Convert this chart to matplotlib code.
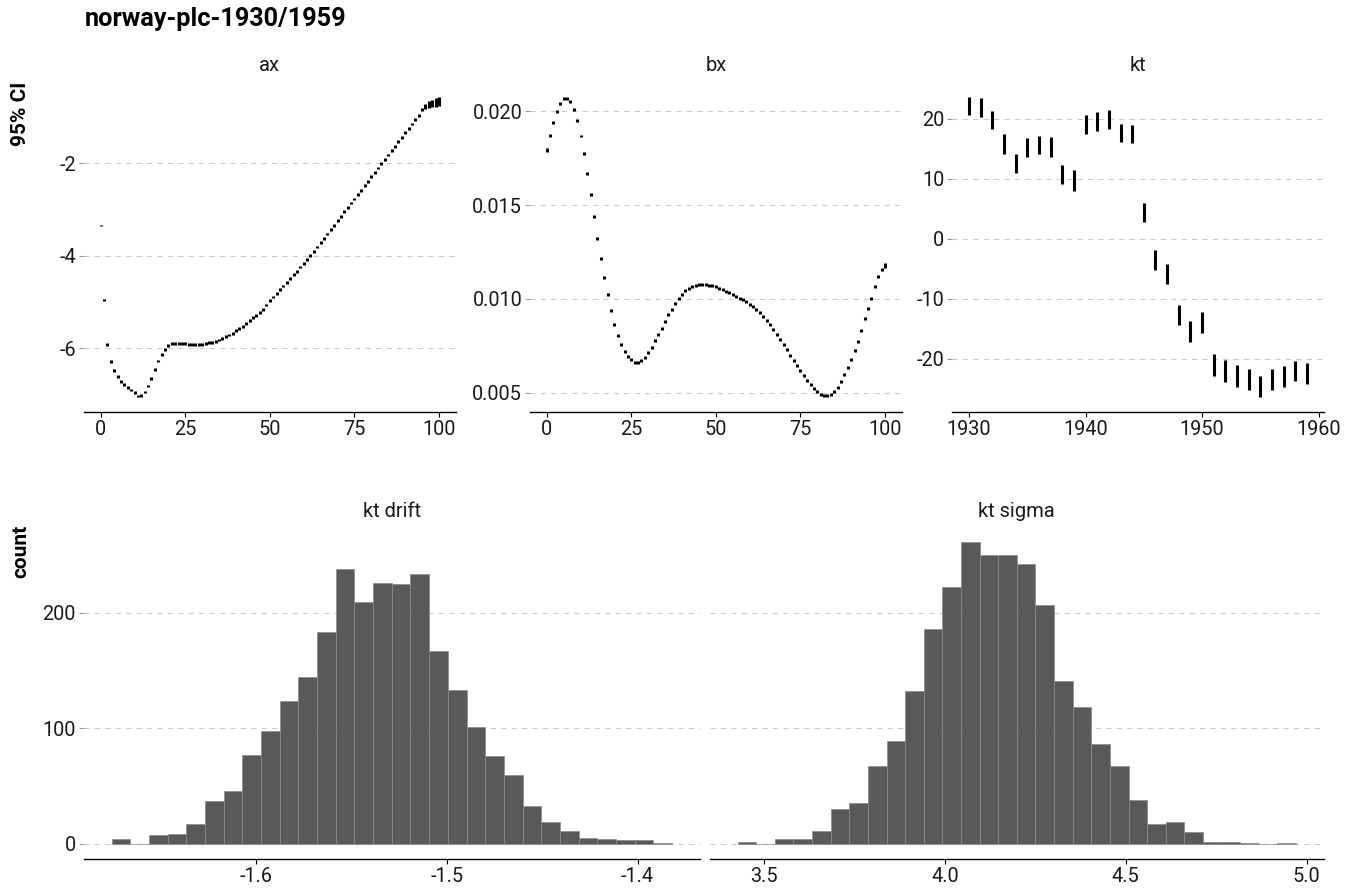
import numpy as np
import matplotlib
matplotlib.use("Agg")
import matplotlib.pyplot as plt

plt.rcParams['font.family'] = ['Roboto', 'DejaVu Sans']
plt.rcParams['axes.unicode_minus'] = False

# ---- data ----
ages = list(range(101))

ax_mid = [-3.35, -4.96, -5.91, -6.29, -6.48, -6.61, -6.71, -6.78, -6.85, -6.90,
          -6.96, -7.03, -7.02, -6.94, -6.81, -6.65, -6.45, -6.27, -6.14, -6.02,
          -5.93, -5.89, -5.89, -5.89, -5.90, -5.90, -5.91, -5.92, -5.92, -5.91,
          -5.91, -5.90, -5.88, -5.87, -5.85, -5.82, -5.79, -5.75, -5.71, -5.67,
          -5.62, -5.57, -5.52, -5.46, -5.40, -5.34, -5.29, -5.23, -5.16, -5.06,
          -4.97, -4.89, -4.81, -4.73, -4.65, -4.57, -4.49, -4.41, -4.33, -4.24,
          -4.16, -4.08, -4.00, -3.91, -3.81, -3.72, -3.62, -3.53, -3.43, -3.34,
          -3.24, -3.15, -3.05, -2.96, -2.86, -2.77, -2.67, -2.58, -2.48, -2.39,
          -2.29, -2.20, -2.10, -2.01, -1.91, -1.82, -1.72, -1.63, -1.53, -1.44,
          -1.34, -1.25, -1.15, -1.05, -0.96, -0.84, -0.77, -0.73, -0.71, -0.69,
          -0.66]
ax_halfw = [0.01, 0.02, 0.03, 0.03, 0.03, 0.03, 0.03, 0.03, 0.03, 0.03,
            0.03, 0.03, 0.03, 0.03, 0.03, 0.03, 0.03, 0.03, 0.03, 0.03,
            0.03, 0.03, 0.03, 0.03, 0.03, 0.03, 0.03, 0.03, 0.03, 0.03,
            0.03, 0.03, 0.03, 0.03, 0.03, 0.03, 0.03, 0.03, 0.03, 0.03,
            0.03, 0.03, 0.03, 0.03, 0.03, 0.03, 0.03, 0.03, 0.03, 0.03,
            0.03, 0.03, 0.03, 0.03, 0.03, 0.03, 0.03, 0.03, 0.03, 0.03,
            0.03, 0.03, 0.03, 0.03, 0.03, 0.03, 0.03, 0.03, 0.03, 0.03,
            0.03, 0.03, 0.03, 0.03, 0.03, 0.03, 0.03, 0.03, 0.03, 0.03,
            0.03, 0.03, 0.03, 0.03, 0.03, 0.03, 0.03, 0.03, 0.03, 0.03,
            0.03, 0.03, 0.03, 0.03, 0.035, 0.04, 0.06, 0.07, 0.08, 0.09,
            0.10]

bx_mid = [0.01796, 0.01871, 0.01943, 0.02000, 0.02043, 0.02067, 0.02071, 0.02055, 0.02011, 0.01950,
          0.01869, 0.01775, 0.01670, 0.01557, 0.01441, 0.01324, 0.01216, 0.01113, 0.01021, 0.00936,
          0.00863, 0.00805, 0.00755, 0.00720, 0.00691, 0.00674, 0.00663, 0.00661, 0.00670, 0.00688,
          0.00715, 0.00743, 0.00777, 0.00809, 0.00844, 0.00879, 0.00915, 0.00945, 0.00973, 0.01002,
          0.01025, 0.01043, 0.01057, 0.01066, 0.01073, 0.01076, 0.01076, 0.01076, 0.01073, 0.01069,
          0.01064, 0.01057, 0.01050, 0.01041, 0.01033, 0.01024, 0.01012, 0.01004, 0.00995, 0.00984,
          0.00972, 0.00959, 0.00945, 0.00927, 0.00908, 0.00887, 0.00863, 0.00839, 0.00812, 0.00785,
          0.00757, 0.00729, 0.00700, 0.00672, 0.00644, 0.00617, 0.00590, 0.00566, 0.00543, 0.00521,
          0.00504, 0.00491, 0.00482, 0.00482, 0.00491, 0.00505, 0.00527, 0.00557, 0.00594, 0.00633,
          0.00676, 0.00723, 0.00775, 0.00832, 0.00894, 0.00947, 0.01004, 0.01064, 0.01121, 0.01156,
          0.01179]
bx_halfw = [0.0001] + [0.00008] * 99 + [0.00013]

years = list(range(1930, 1960))
kt_hi = [23.7, 23.4, 21.3, 17.4, 14.2, 16.8, 17.2, 17.0, 12.3, 11.4,
         20.6, 21.1, 21.4, 19.1, 18.9, 5.9, -1.9, -4.2, -11.1, -13.7,
         -12.2, -19.3, -20.2, -21.1, -21.8, -22.9, -21.8, -21.3, -20.4, -20.7]
kt_lo = [20.6, 20.3, 18.3, 14.1, 11.0, 13.6, 14.2, 13.7, 9.1, 8.0,
         17.4, 18.0, 18.3, 16.1, 15.9, 2.7, -5.2, -7.5, -14.4, -17.2,
         -15.7, -23.0, -23.9, -24.8, -25.3, -26.5, -25.2, -24.8, -23.8, -24.2]

# histograms: 30 bins each
drift_start, drift_binw = -1.676, 0.0098
drift_counts = [4, 0, 8, 9, 17, 37, 46, 77, 98, 124, 144, 183, 238, 209, 226,
                225, 233, 167, 133, 101, 76, 60, 33, 19, 11, 5, 4, 3, 3, 1]
sigma_start, sigma_binw = 3.427, 0.05147
sigma_counts = [2, 0, 4, 4, 11, 30, 35, 67, 89, 132, 186, 222, 261, 250, 250,
                242, 207, 141, 118, 86, 67, 38, 17, 19, 10, 2, 2, 1, 0, 1]

# ---- figure ----
W, H = 1364, 892
fig = plt.figure(figsize=(W / 100, H / 100), dpi=100)


def add_axes(x0, x1, ytop, ybot):
    return fig.add_axes([x0 / W, 1 - ybot / H, (x1 - x0) / W, (ybot - ytop) / H])


def style(a, title):
    for s in ['top', 'right', 'left']:
        a.spines[s].set_visible(False)
    a.spines['bottom'].set_linewidth(1.0)
    a.spines['bottom'].set_color('black')
    a.yaxis.grid(True, linestyle=(0, (5, 5)), color='#cacaca', linewidth=0.75)
    a.xaxis.grid(False)
    a.set_axisbelow(True)
    a.tick_params(axis='x', colors='black', length=3.5, width=0.8, pad=2,
                  labelsize=14.3, labelcolor='#1a1a1a')
    a.tick_params(axis='y', colors='#9a9a9a', length=3.5, width=0.8, pad=2,
                  labelsize=14.3, labelcolor='#1a1a1a')
    a.set_title(title, fontsize=14.5, pad=7.5, color='#1a1a1a')


top_y = (81.6, 412.5)
a1 = add_axes(83.8, 455.9, *top_y)
a2 = add_axes(529.8, 901.9, *top_y)
a3 = add_axes(952, 1324, *top_y)
bot_y = (527, 859)
a4 = add_axes(83.6, 700, *bot_y)
a5 = add_axes(709.7, 1324, *bot_y)

lw_mark = 2.2
axm = np.array(ax_mid)
axw = np.array(ax_halfw)
a1.vlines(ages, axm - axw, axm + axw, color='black', lw=lw_mark, capstyle='butt')
a1.set_yticks([-2, -4, -6])
a1.set_xticks([0, 25, 50, 75, 100])
style(a1, 'ax')

bxm = np.array(bx_mid)
bxw = np.array(bx_halfw)
a2.vlines(ages, bxm - bxw, bxm + bxw, color='black', lw=lw_mark, capstyle='butt')
a2.set_yticks([0.005, 0.010, 0.015, 0.020])
a2.set_yticklabels(['0.005', '0.010', '0.015', '0.020'])
a2.set_xticks([0, 25, 50, 75, 100])
style(a2, 'bx')

a3.vlines(years, kt_lo, kt_hi, color='black', lw=lw_mark, capstyle='butt')
a3.set_yticks([-20, -10, 0, 10, 20])
a3.set_xticks([1930, 1940, 1950, 1960])
style(a3, 'kt')

ymax = max(max(drift_counts), max(sigma_counts))
for a, start, bw, counts, title, ticks, labels in [
        (a4, drift_start, drift_binw, drift_counts, 'kt drift',
         [-1.6, -1.5, -1.4], ['-1.6', '-1.5', '-1.4']),
        (a5, sigma_start, sigma_binw, sigma_counts, 'kt sigma',
         [3.5, 4.0, 4.5, 5.0], ['3.5', '4.0', '4.5', '5.0'])]:
    edges = start + bw * np.arange(len(counts))
    a.bar(edges, counts, width=bw, align='edge', color='#595959',
          edgecolor='#8a8a8a', linewidth=0.5)
    span = bw * len(counts)
    a.set_xlim(start - 0.05 * span, start + 1.05 * span)
    a.set_ylim(-0.05 * ymax, 1.05 * ymax)
    a.set_xticks(ticks)
    a.set_xticklabels(labels)
    a.set_yticks([0, 100, 200])
    style(a, title)
a5.tick_params(axis='y', left=False, labelleft=False)

fig.text(85 / W, 1 - 19 / H, 'norway-plc-1930/1959', fontsize=18.2,
         fontweight='bold', ha='left', va='center', color='black')
fig.text(20.5 / W, 1 - 82 / H, '95% CI', fontsize=15, fontweight='bold',
         rotation=90, ha='center', va='top', color='black')
fig.text(20.5 / W, 1 - 525 / H, 'count', fontsize=15, fontweight='bold',
         rotation=90, ha='center', va='top', color='black')

fig.savefig('out.png', dpi=100)
